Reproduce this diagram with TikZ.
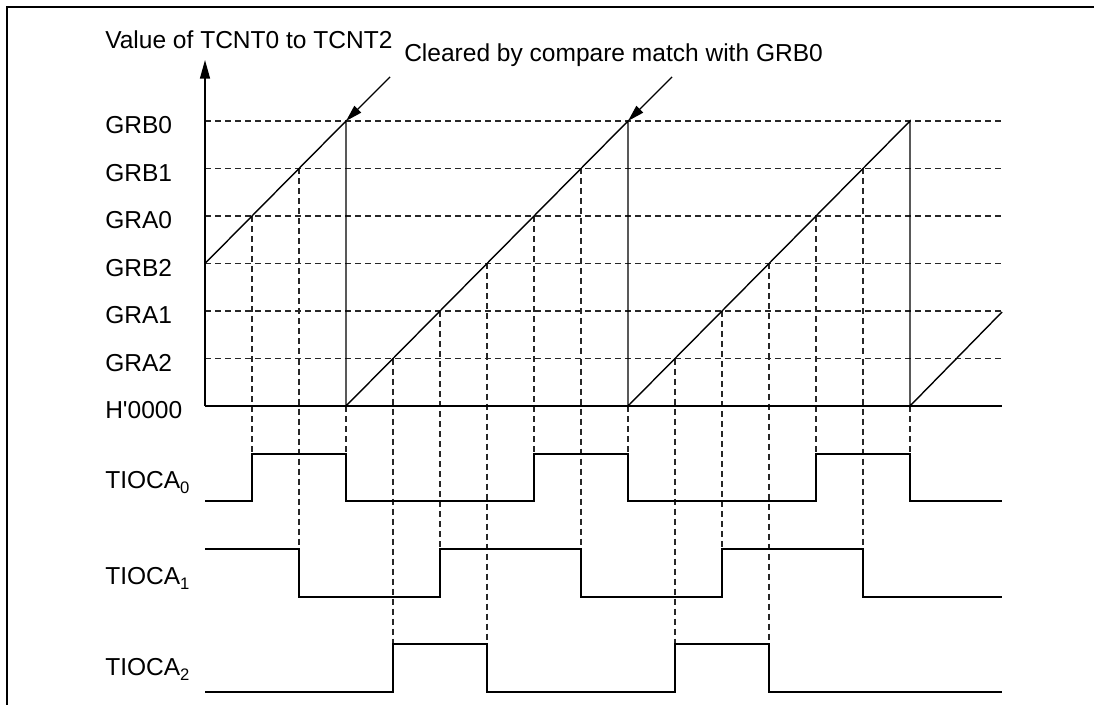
\documentclass[tikz,border=0pt]{standalone}
\usepackage{fontspec}
\setmainfont{Liberation Sans}
\usetikzlibrary{arrows.meta}
\newcommand{\subsc}[1]{\raisebox{-3.5pt}{\fontsize{12.5}{13}\selectfont #1}}
\begin{document}
\begin{tikzpicture}[x=0.75pt,y=-0.75pt,
  solidline/.style={line width=1.05pt, black},
  dashline/.style={line width=0.8pt, black!85, dash pattern=on 4.5pt off 3pt},
  lbl/.style={font=\fontsize{18.4}{21}\selectfont, inner sep=0pt, text height=13.2pt, text depth=0pt, anchor=west},
  tip/.style={-{Triangle[length=12.5pt,width=7pt]}}
  ]
\useasboundingbox (0,0) rectangle (1094,705);
\draw[line width=1.2pt] (7,705) -- (7,7) -- (1094,7);

% levels
\foreach \name/\y in {GRB0/121, GRB1/168.5, GRA0/216, GRB2/263.5, GRA1/311, GRA2/358.5}{
  \node[lbl] (l\name) at (105,\y+4) {\name};
  \draw[dashline] (205,\y) -- (1002,\y);
}
\node[lbl] (lH) at (105,410) {H\textquotesingle 0000};

% vertical dashed guide lines
\foreach \x/\ya/\yb in {252/216/454, 299/168.5/549, 346/406/454,
  393/358.5/644, 440/311/549, 487/263.5/644, 534/216/454, 581/168.5/549, 628/406/454,
  675/358.5/644, 722/311/549, 769/263.5/644, 816/216/454, 863/168.5/549, 910/406/454}{
  \draw[dashline] (\x,\ya) -- (\x,\yb);
}

% axes
\coordinate (O) at (205,406);
\coordinate (Ytop) at (205,60);
\coordinate (Xend) at (1002,406);
\draw[solidline, -{Triangle[length=14pt,width=7.5pt]}] (O) -- (Ytop);
\draw[solidline] (O) -- (Xend);
\node[lbl] (title) at (105,40) {Value of TCNT0 to TCNT2};

% counter ramps
\coordinate (r0) at (205,263.5);
\coordinate (c1) at (346,121);
\coordinate (c2) at (628,121);
\coordinate (c3) at (910,121);
\draw[solidline] (r0) -- (c1) -- (346,406) -- (c2) -- (628,406) -- (c3) -- (910,406) -- (1002,312);

% cleared annotation
\node[lbl] (clr) at (404,53) {Cleared by compare match with GRB0};
\coordinate (a1) at (390,77);
\coordinate (a2) at (672,77);
\draw[solidline, tip] (a1) -- (c1);
\draw[solidline, tip] (a2) -- (c2);

% output waveforms
\node[lbl] (t0) at (105,480) {TIOCA\subsc{0}};
\node[lbl] (t1) at (105,576) {TIOCA\subsc{1}};
\node[lbl] (t2) at (105,667) {TIOCA\subsc{2}};

\draw[solidline] (205,501) -- (252,501) -- (252,454) -- (346,454) -- (346,501) -- (534,501) -- (534,454) -- (628,454) -- (628,501) -- (816,501) -- (816,454) -- (910,454) -- (910,501) -- (1002,501);
\draw[solidline] (205,549) -- (299,549) -- (299,597) -- (440,597) -- (440,549) -- (581,549) -- (581,597) -- (722,597) -- (722,549) -- (863,549) -- (863,597) -- (1002,597);
\draw[solidline] (205,692) -- (393,692) -- (393,644) -- (487,644) -- (487,692) -- (675,692) -- (675,644) -- (769,644) -- (769,692) -- (1002,692);
\end{tikzpicture}
\end{document}
